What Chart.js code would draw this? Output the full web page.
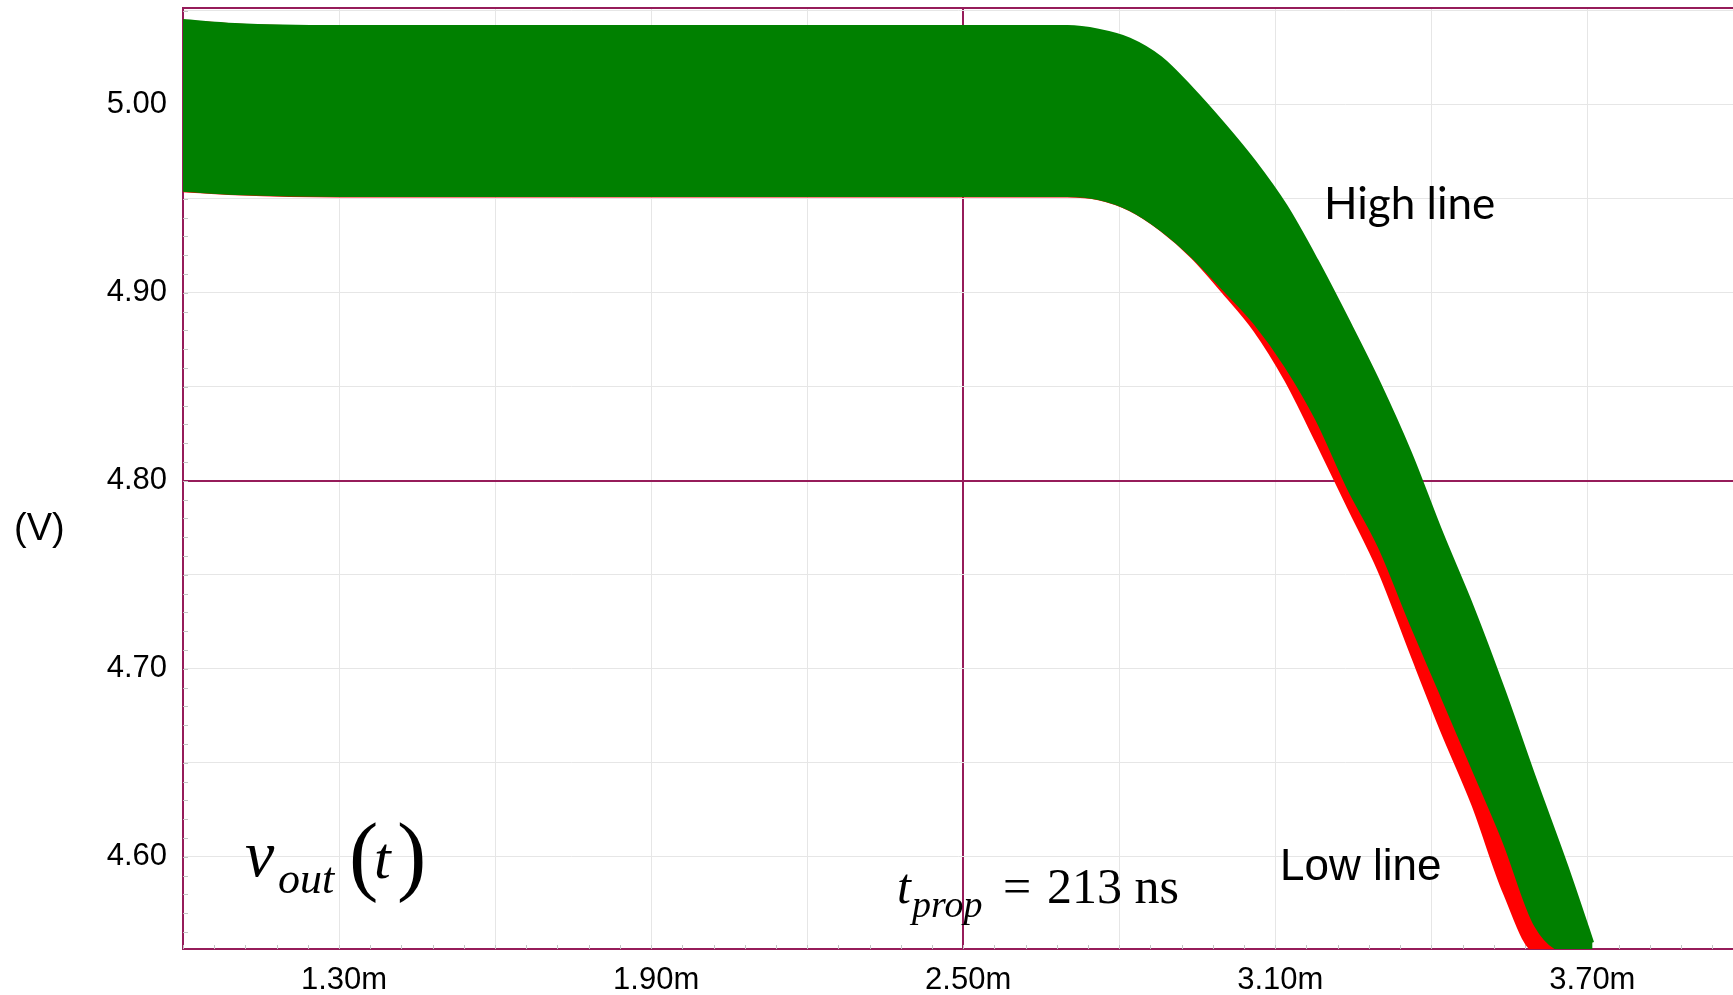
<!DOCTYPE html>
<html>
<head>
<meta charset="utf-8">
<script src="https://cdn.jsdelivr.net/npm/chart.js@4.4.1/dist/chart.umd.min.js"></script>
<style>
html, body { margin: 0; padding: 0; background: #fff; overflow: hidden; }
canvas { display: block; }
</style>
</head>
<body>
<canvas id="vout" width="1733" height="995"></canvas>
<script>
// sample times (ms) and the ripple envelopes (V)
const time = [1.00, 1.10, 1.30, 2.70, 2.76, 2.82, 2.88, 2.94, 3.00, 3.06, 3.12, 3.18, 3.24, 3.30, 3.36, 3.42, 3.48, 3.54, 3.60, 3.66, 3.70, 3.71];

// High line (green): ripple peaks and troughs
const highTop    = [5.0448, 5.0427, 5.0416, 5.0416, 5.0397, 5.0350, 5.0251, 5.0087, 4.9901, 4.9699, 4.9465, 4.9173, 4.8854, 4.8520, 4.8148, 4.7723, 4.7324, 4.6883, 4.6411, 4.5954, 4.5628, 4.5545];
const highBottom = [4.9545, 4.9529, 4.9518, 4.9518, 4.9502, 4.9444, 4.9337, 4.9194, 4.9020, 4.8840, 4.8610, 4.8324, 4.7963, 4.7649, 4.7245, 4.6857, 4.6468, 4.6077, 4.5636, 4.5500, 4.5500, 4.5500];

// Low line (red): mostly hidden behind the green trace
const lowTop     = [5.0445, 5.0425, 5.0414, 5.0414, 5.0315, 5.0187, 5.0012, 4.9826, 4.9608, 4.9343, 4.9029, 4.8716, 4.8360, 4.7972, 4.7542, 4.7133, 4.6687, 4.6209, 4.5747, 4.5500, 4.5500, 4.5500];
const lowBottom  = [4.9543, 4.9527, 4.9515, 4.9515, 4.9500, 4.9442, 4.9335, 4.9190, 4.9003, 4.8802, 4.8536, 4.8206, 4.7863, 4.7519, 4.7091, 4.6670, 4.6276, 4.5811, 4.5500, 4.5500, 4.5500, 4.5500];

const xTickValues = [1.30, 1.90, 2.50, 3.10, 3.70];
const xTickLabels = ['1.30m', '1.90m', '2.50m', '3.10m', '3.70m'];
const yTickValues = [4.60, 4.70, 4.80, 4.90, 5.00];
const yTickLabels = ['4.60', '4.70', '4.80', '4.90', '5.00'];

const MAROON = '#961c5a';
const GRID = '#e6e6e6';
const GREEN = '#008000';
const RED = '#ff0000';

const pts = arr => time.map((t, i) => ({ x: t, y: arr[i] }));
const near = (a, b) => Math.abs(a - b) < 1e-6;

function labelFor(values, labels, v) {
    const i = values.findIndex(w => near(w, v));
    return i >= 0 ? labels[i] : '';
}

function trace(data, color, fill) {
    return {
        data: pts(data),
        borderColor: color,
        backgroundColor: color,
        borderWidth: 3,
        pointRadius: 0,
        cubicInterpolationMode: 'monotone',
        fill: fill
    };
}

// small inside ticks along the bottom and left borders, plus the top frame line
const frame = {
    id: 'frame',
    beforeDatasetsDraw(chart) {
        const { ctx, chartArea: a, scales: { x, y } } = chart;
        ctx.save();
        ctx.strokeStyle = '#c4c4c4';
        ctx.lineWidth = 1;
        ctx.beginPath();
        for (let i = 0; i <= 50; i++) {
            const px = Math.round(x.getPixelForValue(1.0 + 0.06 * i)) + 0.5;
            if (px > a.right) break;
            ctx.moveTo(px, a.bottom);
            ctx.lineTo(px, a.bottom - 4);
        }
        for (let i = 0; i <= 50; i++) {
            const py = Math.round(y.getPixelForValue(4.56 + 0.01 * i)) + 0.5;
            if (py < a.top) break;
            ctx.moveTo(a.left, py);
            ctx.lineTo(a.left + 5, py);
        }
        ctx.stroke();
        ctx.strokeStyle = MAROON;
        ctx.lineWidth = 2;
        ctx.beginPath();
        ctx.moveTo(a.left, a.top);
        ctx.lineTo(a.right, a.top);
        ctx.stroke();
        ctx.restore();
    }
};

function put(ctx, text, font, x, y) {
    ctx.font = font;
    ctx.fillText(text, x, y);
}

const notes = {
    id: 'notes',
    afterDraw(chart) {
        const ctx = chart.ctx;
        ctx.save();
        ctx.fillStyle = '#000';
        ctx.textAlign = 'left';
        ctx.textBaseline = 'alphabetic';
        put(ctx, '(V)', '38px "Liberation Sans"', 14, 540);
        put(ctx, 'High line', '44px Lato', 1324, 219);
        put(ctx, 'Low line', '44px "Liberation Sans"', 1280, 880);

        // v_out(t)
        put(ctx, 'v', 'italic 66px "Liberation Serif"', 245, 876);
        put(ctx, 'out', 'italic 44px "Liberation Serif"', 278, 893);
        put(ctx, '(', '88px "Liberation Serif"', 349, 884);
        put(ctx, 't', 'italic 60px "Liberation Serif"', 374, 878);
        put(ctx, ')', '88px "Liberation Serif"', 397, 884);

        // t_prop = 213 ns
        put(ctx, 't', 'italic 50px "Liberation Serif"', 897, 903);
        put(ctx, 'prop', 'italic 38px "Liberation Serif"', 912, 917);
        put(ctx, '=', '50px "Liberation Serif"', 1003, 903);
        put(ctx, '213 ns', '50px "Liberation Serif"', 1047, 903);
        ctx.restore();
    }
};

new Chart(document.getElementById('vout'), {
    type: 'line',
    data: {
        datasets: [
            trace(highTop, GREEN, '+1'),
            trace(highBottom, GREEN, false),
            trace(lowTop, RED, '+1'),
            trace(lowBottom, RED, false)
        ]
    },
    options: {
        responsive: false,
        animation: false,
        devicePixelRatio: 1,
        layout: { padding: { top: 8, right: 0, left: 0, bottom: 0 } },
        plugins: { legend: { display: false }, tooltip: { enabled: false } },
        scales: {
            x: {
                type: 'linear',
                min: 1.00,
                max: 3.98,
                afterBuildTicks(scale) {
                    const t = [];
                    for (let i = 0; i <= 9; i++) t.push({ value: +(1.0 + 0.3 * i).toFixed(2) });
                    scale.ticks = t;
                },
                afterFit(scale) {
                    scale.height = 46;
                    scale.paddingLeft = 0;
                    scale.paddingRight = 0;
                },
                ticks: {
                    autoSkip: false,
                    maxRotation: 0,
                    padding: 13,
                    labelOffset: 5,
                    color: '#000',
                    font: { family: '"Liberation Sans"', size: 31 },
                    callback: v => labelFor(xTickValues, xTickLabels, v)
                },
                grid: {
                    drawTicks: false,
                    color: c => near(c.tick.value, 2.5) ? MAROON : GRID,
                    lineWidth: c => near(c.tick.value, 2.5) ? 2 : 1
                },
                border: { color: MAROON, width: 2 }
            },
            y: {
                min: 4.551,
                max: 5.0515,
                afterBuildTicks(scale) {
                    const t = [];
                    for (let i = 0; i <= 9; i++) t.push({ value: +(4.60 + 0.05 * i).toFixed(2) });
                    scale.ticks = t;
                },
                afterFit(scale) {
                    scale.width = 183;
                    scale.paddingTop = 0;
                    scale.paddingBottom = 0;
                },
                ticks: {
                    autoSkip: false,
                    padding: 16,
                    color: '#000',
                    font: { family: '"Liberation Sans"', size: 31 },
                    callback: v => labelFor(yTickValues, yTickLabels, v)
                },
                grid: {
                    drawTicks: false,
                    color: c => near(c.tick.value, 4.8) ? MAROON : GRID,
                    lineWidth: c => near(c.tick.value, 4.8) ? 2 : 1
                },
                border: { color: MAROON, width: 2 }
            }
        }
    },
    plugins: [frame, notes]
});
</script>
</body>
</html>
